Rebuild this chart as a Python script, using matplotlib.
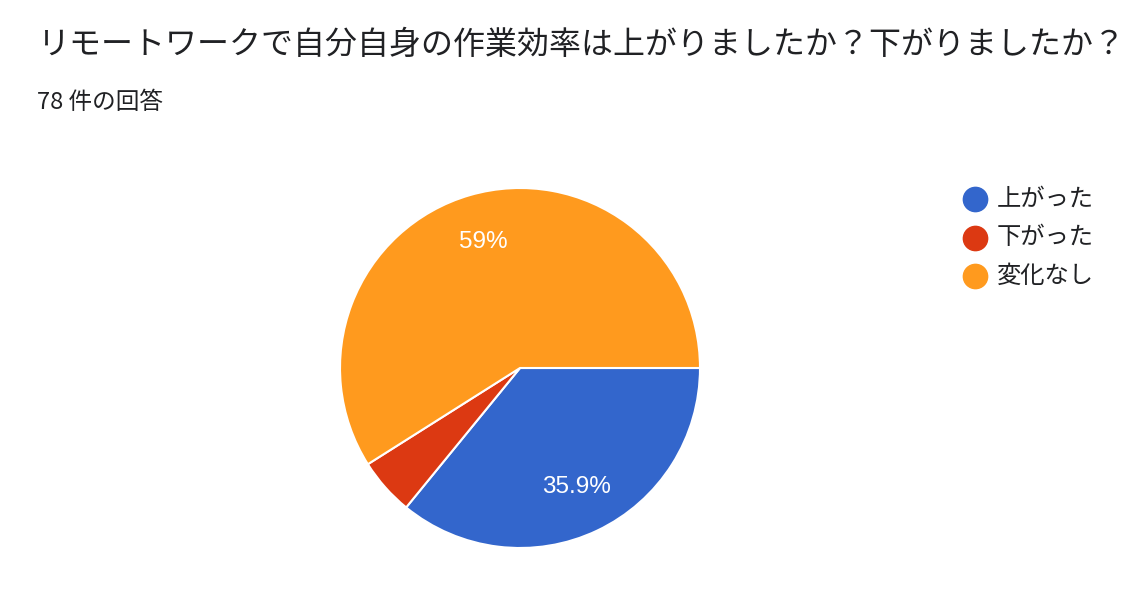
import matplotlib.pyplot as plt
from matplotlib.lines import Line2D

plt.rcParams['font.family'] = ['Noto Sans CJK JP', 'DejaVu Sans']

title = "リモートワークで自分自身の作業効率は上がりましたか？下がりましたか？"
subtitle = "78 件の回答"
labels = ["上がった", "下がった", "変化なし"]
counts = [28, 4, 46]
colors = ["#3366cc", "#dc3912", "#ff9a1e"]

W, H = 1148, 596
fig = plt.figure(figsize=(W / 100, H / 100), dpi=100)

cx, cy, r = 520, 368, 180
ax = fig.add_axes([(cx - r) / W, (H - cy - r) / H, 2 * r / W, 2 * r / H])


def pct_fmt(p):
    if p < 10:
        return ""
    s = "%.1f" % p
    if s.endswith(".0"):
        s = s[:-2]
    return s + "%"


wedges, texts, autotexts = ax.pie(
    counts, colors=colors, startangle=0, counterclock=False,
    autopct=pct_fmt, pctdistance=0.73,
    wedgeprops=dict(edgecolor="white", linewidth=1.5))
for t in autotexts:
    t.set_color("white")
    t.set_fontsize(17.5)
    t.set_family(["Liberation Sans", "DejaVu Sans"])
ax.set_xlim(-1, 1)
ax.set_ylim(-1, 1)
ax.set_aspect("equal")

fig.text(38 / W, 1 - 45 / H, title, fontsize=23, color="#202124", va="center", ha="left")
fig.text(37 / W, 1 - 103 / H, subtitle, fontsize=17, color="#202124", va="center", ha="left")

# legend by hand
for i, (lab, c) in enumerate(zip(labels, colors)):
    y = 1 - (199 + 38.5 * i) / H
    fig.add_artist(Line2D([975 / W], [y], marker="o", linestyle="", markersize=17.5,
                          markerfacecolor=c, markeredgecolor=c, transform=fig.transFigure))
    fig.text(997 / W, y, lab, fontsize=17.5, color="#202124", va="center", ha="left")

fig.savefig("out.png", dpi=100, facecolor="white")
